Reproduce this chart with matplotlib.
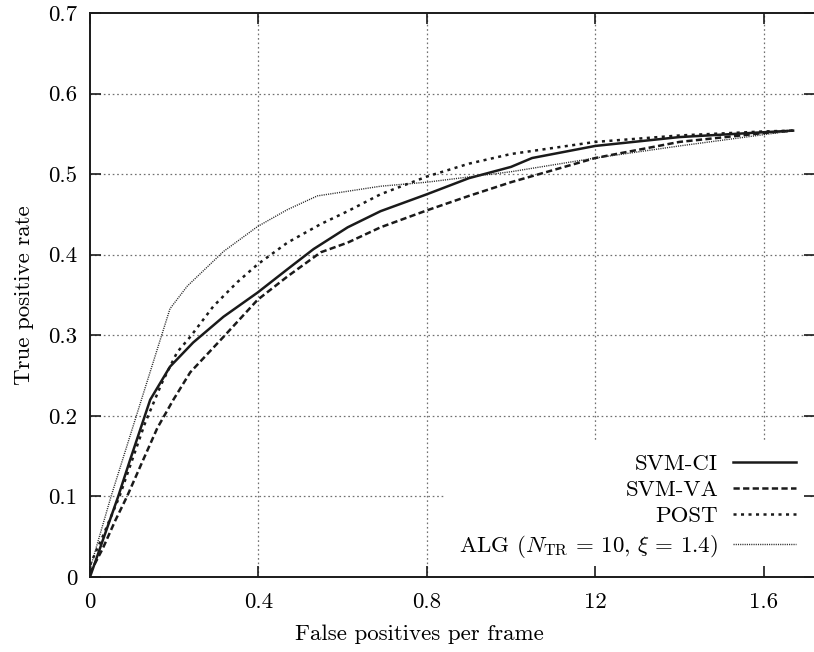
import matplotlib
matplotlib.use("Agg")
import matplotlib.pyplot as plt

plt.rcParams['font.family'] = ['cmr10', 'DejaVu Serif']
plt.rcParams['mathtext.fontset'] = 'cm'
plt.rcParams['axes.formatter.use_mathtext'] = True
plt.rcParams['lines.scale_dashes'] = False

# SVM-CI (solid)
ci_x = [0, 0.03, 0.067, 0.095, 0.143, 0.19, 0.245, 0.317, 0.398, 0.469, 0.531,
        0.612, 0.69, 0.8, 0.9, 1.0, 1.05, 1.2, 1.4, 1.6, 1.67]
ci_y = [0, 0.045, 0.1, 0.145, 0.22, 0.261, 0.291, 0.323, 0.353, 0.382, 0.407,
        0.434, 0.454, 0.475, 0.495, 0.509, 0.52, 0.535, 0.546, 0.552, 0.554]

# SVM-VA (dashed)
va_x = [0, 0.03, 0.06, 0.088, 0.126, 0.16, 0.198, 0.238, 0.317, 0.398, 0.469,
        0.548, 0.612, 0.69, 0.8, 0.9, 1.0, 1.1, 1.2, 1.4, 1.6, 1.67]
va_y = [0.005, 0.035, 0.07, 0.1, 0.145, 0.185, 0.22, 0.254, 0.298, 0.344, 0.373,
        0.403, 0.415, 0.434, 0.455, 0.473, 0.49, 0.505, 0.52, 0.54, 0.551, 0.554]

# POST (short dashes)
post_x = [0, 0.03, 0.07, 0.1, 0.13, 0.17, 0.207, 0.238, 0.293, 0.35, 0.398,
          0.469, 0.548, 0.612, 0.69, 0.8, 0.9, 1.0, 1.2, 1.4, 1.6, 1.67]
post_y = [0.015, 0.05, 0.1, 0.145, 0.19, 0.24, 0.279, 0.298, 0.336, 0.366, 0.388,
          0.415, 0.438, 0.454, 0.475, 0.497, 0.513, 0.525, 0.54, 0.548, 0.553, 0.554]

# ALG (dotted)
alg_x = [0, 0.05, 0.19, 0.231, 0.317, 0.398, 0.469, 0.54, 0.69, 0.8, 1.0,
         1.2, 1.4, 1.6, 1.67]
alg_y = [0.01, 0.1, 0.333, 0.361, 0.404, 0.435, 0.456, 0.473, 0.485, 0.49, 0.503,
         0.52, 0.535, 0.549, 0.554]

x_ticks = [0, 0.4, 0.8, 1.2, 1.6]
x_labels = ['0', '0.4', '0.8', '12', '1.6']
y_ticks = [0, 0.1, 0.2, 0.3, 0.4, 0.5, 0.6, 0.7]
y_labels = ['0', '0.1', '0.2', '0.3', '0.4', '0.5', '0.6', '0.7']

fig = plt.figure(figsize=(8.14, 6.52), dpi=100)
ax = fig.add_axes([90 / 814, 75 / 652, 725 / 814, 564 / 652])

ink = '#1a1a1a'
fs = 16.5
grid_kw = dict(color='#707070', lw=0.9, linestyle=(0, (1.2, 2.0)), zorder=1)
for xv in x_ticks[1:]:
    ax.axvline(xv, **grid_kw)
for yv in y_ticks[1:-1]:
    ax.axhline(yv, **grid_kw)

ax.plot(ci_x, ci_y, color=ink, lw=1.8, label='SVM-CI', zorder=3)
ax.plot(va_x, va_y, color=ink, lw=1.8, linestyle=(0, (4.5, 2.4)),
        label='SVM-VA', zorder=3)
ax.plot(post_x, post_y, color=ink, lw=1.8, linestyle=(0, (2.2, 3.2)),
        label='POST', zorder=3)
ax.plot(alg_x, alg_y, color='#2a2a2a', lw=1.0, linestyle=(0, (0.8, 0.8)),
        label=r'ALG ($N_{\mathrm{TR}}\,=\,10,\, \xi\,=\,1.4$)', zorder=3)

ax.set_xlim(0, 1.722)
ax.set_ylim(0, 0.7)
ax.set_xticks(x_ticks)
ax.set_xticklabels(x_labels)
ax.set_yticks(y_ticks)
ax.set_yticklabels(y_labels)
ax.tick_params(direction='in', length=8, width=1.2, labelsize=fs,
               top=True, right=True, color=ink)
ax.tick_params(axis='x', pad=11)
ax.tick_params(axis='y', pad=9)
for s in ax.spines.values():
    s.set_linewidth(1.4)
    s.set_color(ink)
ax.set_axisbelow(False)

ax.set_xlabel('False positives per frame', fontsize=fs, labelpad=14)
ax.xaxis.set_label_coords(0.455, -0.085)
ax.set_ylabel('True positive rate', fontsize=fs, labelpad=10)

leg = ax.legend(loc='lower right', bbox_to_anchor=(0.993, 0.006), markerfirst=False,
                frameon=True, fancybox=False, edgecolor='none', facecolor='white',
                framealpha=1.0, fontsize=fs, handlelength=2.75, handletextpad=0.65,
                labelspacing=0.28, borderpad=0.6, borderaxespad=0.0)
leg.set_zorder(2)
for col in leg._legend_handle_box.get_children():
    col.align = 'right'

fig.savefig('out.png', dpi=100)
